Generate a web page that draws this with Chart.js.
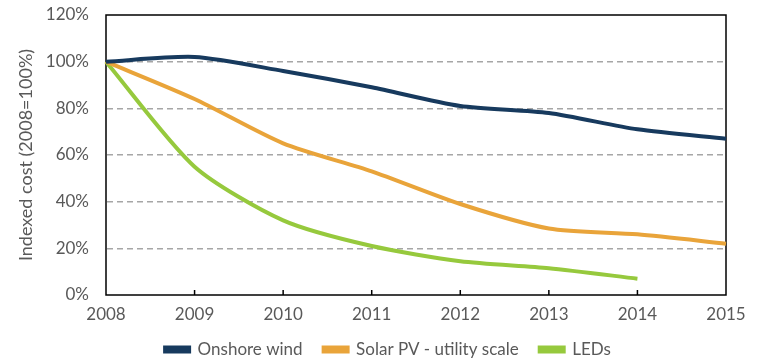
<!DOCTYPE html>
<html>
<head>
<meta charset="utf-8">
<script src="https://cdn.jsdelivr.net/npm/chart.js@4/dist/chart.umd.min.js"></script>
<style>
  html, body { margin: 0; padding: 0; background: #fff; }
  #wrap { width: 759px; height: 358px; }
</style>
</head>
<body>
<div id="wrap"><canvas id="costChart" width="759" height="358"></canvas></div>
<script>
// Years on the x axis
var years = ['2008', '2009', '2010', '2011', '2012', '2013', '2014', '2015'];

// Indexed cost values (2008 = 100%)
var onshoreWind = [100, 102, 96, 89, 81, 78, 71, 67];
var solarPV = [100, 84, 65, 53, 39, 28.5, 26, 22];
var leds = [100, 55, 32, 21, 14.5, 11.5, 7, null];

var textGrey = '#595959';

// Black frame round the plot plus the small inside ticks on the bottom axis
var framePlugin = {
    id: 'frame',
    afterLayout: function (chart) {
        // legend row sits a bit right of the canvas centre in the original
        if (chart.legend) {
            chart.legend.left += 25;
            chart.legend.right += 25;
        }
    },
    beforeDatasetsDraw: function (chart) {
        var ctx = chart.ctx;
        var a = chart.chartArea;
        var xs = chart.scales.x;
        ctx.save();
        ctx.strokeStyle = '#000';
        ctx.lineWidth = 1.5;
        ctx.strokeRect(a.left, a.top, a.right - a.left, a.bottom - a.top);
        ctx.beginPath();
        for (var i = 1; i < years.length - 1; i++) {
            var x = xs.getPixelForValue(i);
            ctx.moveTo(x, a.bottom);
            ctx.lineTo(x, a.bottom - 5);
        }
        ctx.stroke();
        ctx.restore();
    }
};

var ctx = document.getElementById('costChart').getContext('2d');
var costChart = new Chart(ctx, {
    type: 'line',
    data: {
        labels: years,
        datasets: [{
            label: 'Onshore wind',
            data: onshoreWind,
            borderColor: '#173A5E',
            backgroundColor: '#173A5E'
        }, {
            label: 'Solar PV - utility scale',
            data: solarPV,
            borderColor: '#E9A43A',
            backgroundColor: '#E9A43A'
        }, {
            label: 'LEDs',
            data: leds,
            borderColor: '#96C93D',
            backgroundColor: '#96C93D'
        }]
    },
    options: {
        responsive: false,
        animation: false,
        devicePixelRatio: 1,
        // negative bottom padding pulls the legend row down to the canvas edge
        layout: { padding: { top: 15, right: 33, left: 0, bottom: -10 } },
        elements: {
            line: { borderWidth: 4, tension: 0.25, borderCapStyle: 'butt' },
            point: { radius: 0 }
        },
        scales: {
            x: {
                offset: false,
                afterFit: function (scale) { scale.height = 25; },
                grid: { display: false, drawTicks: false },
                border: { display: false },
                ticks: { color: textGrey, padding: 9, font: { family: 'Lato', size: 17 } }
            },
            y: {
                min: 0,
                max: 120,
                afterFit: function (scale) { scale.width = 106; },
                grid: {
                    drawTicks: true,
                    tickLength: 17,
                    tickColor: 'rgba(0,0,0,0)',
                    color: function (c) {
                        return (c.tick.value === 0 || c.tick.value === 120) ? 'rgba(0,0,0,0)' : '#A6A6A6';
                    },
                    lineWidth: 1.5
                },
                border: { display: true, color: 'rgba(0,0,0,0)', dash: [6, 4] },
                ticks: {
                    stepSize: 20,
                    color: textGrey,
                    padding: 0,
                    font: { family: 'Lato', size: 17 },
                    callback: function (v) { return v + '%'; }
                },
                title: {
                    display: true,
                    text: 'Indexed cost (2008=100%)',
                    color: textGrey,
                    font: { family: 'Lato', size: 18 },
                    padding: { top: 15, bottom: 0 }
                }
            }
        },
        plugins: {
            legend: {
                position: 'bottom',
                labels: {
                    color: textGrey,
                    boxWidth: 24,
                    boxHeight: 4,
                    padding: 21,
                    font: { family: 'Lato', size: 17 }
                }
            },
            tooltip: { enabled: false }
        }
    },
    plugins: [framePlugin]
});
</script>
</body>
</html>
